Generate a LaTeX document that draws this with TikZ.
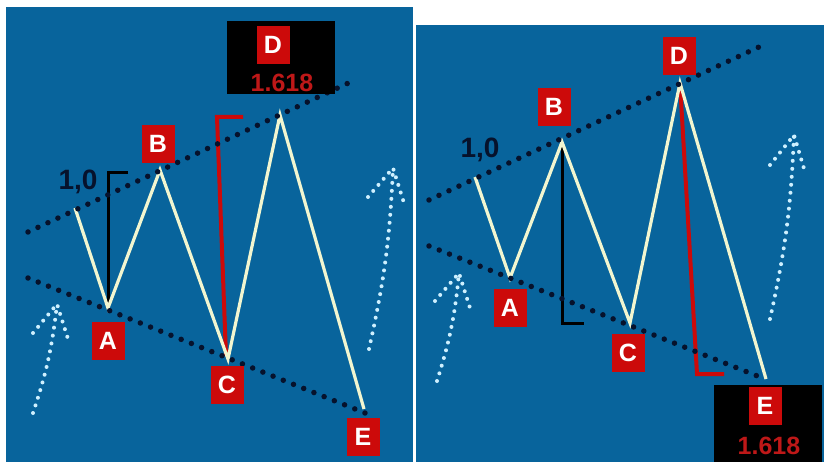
\documentclass[tikz,border=0pt]{standalone}
\usepackage{fontspec}
\setmainfont{Liberation Sans}
\usepackage{tikz}
\usetikzlibrary{positioning}
\definecolor{panelblue}{RGB}{8,100,156}
\definecolor{labelred}{RGB}{204,10,10}
\definecolor{ratiored}{RGB}{190,24,24}
\definecolor{dotnavy}{RGB}{6,18,44}
\definecolor{wavecream}{RGB}{242,246,208}
\definecolor{arrowdot}{RGB}{206,240,255}
\tikzset{
  panel/.style={fill=panelblue,draw=none},
  wave/.style={draw=wavecream,line width=3.2pt,line join=miter},
  trendline/.style={draw=dotnavy,line width=5.5pt,line cap=round,
    dash pattern=on 0pt off 11pt},
  upmove/.style={draw=arrowdot,line width=4pt,line cap=round,
    dash pattern=on 0pt off 8pt},
  unitbar/.style={draw=black,line width=3pt},
  extbar/.style={draw=labelred,line width=4pt},
  pointlabel/.style={fill=labelred,text=white,minimum width=33pt,
    minimum height=38pt,inner sep=0pt,
    font=\bfseries\fontsize{25}{25}\selectfont},
  targetbox/.style={fill=black,minimum width=108pt,inner sep=0pt},
  ratiotext/.style={text=ratiored,inner sep=0pt,
    font=\bfseries\fontsize{25}{25}\selectfont},
  unittext/.style={text=dotnavy,inner sep=0pt,
    font=\bfseries\fontsize{28}{28}\selectfont}
}

\begin{document}
\begin{tikzpicture}[x=1pt,y=-1pt]
  \useasboundingbox (0,0) rectangle (824,462);
  \fill[panel] (6,7) rectangle (413,462);
  \fill[panel] (416,25) rectangle (824,462);

  % left chart: D is the 1.618 extension
  \coordinate (l0) at (75,208);
  \coordinate (lA) at (108,308);
  \coordinate (lB) at (160,170);
  \coordinate (lC) at (228,359);
  \coordinate (lD) at (280,115);
  \coordinate (lE) at (364,409);
  \coordinate (lUpS) at (28,232);
  \coordinate (lUpT) at (357,79);
  \coordinate (lLoS) at (28,278);
  \coordinate (lLoT) at (365,413);
  \coordinate (lUnitEnd) at (128,173);
  \coordinate (lUnitTop) at (108,173);
  \coordinate (lExtEnd) at (243,117);
  \coordinate (lExtTop) at (217,117);
  \coordinate (lExtBot) at (226,356);

  \draw[unitbar] (lUnitEnd) -- (lUnitTop) -- (lA);
  \draw[extbar] (lExtEnd) -- (lExtTop) -- (lExtBot);
  \draw[wave] (l0) -- (lA) -- (lB) -- (lC) -- (lD) -- (lE);
  \draw[trendline] (lUpS) -- (lUpT);
  \draw[trendline] (lLoS) -- (lLoT);

  % dotted up arrows
  \coordinate (lm1S) at (33,413);
  \coordinate (lm1T) at (57,304);
  \coordinate (lm1L) at (33,333);
  \coordinate (lm1R) at (68,339);
  \draw[upmove] (lm1S) to[bend right=6] (lm1T);
  \draw[upmove] (lm1L) -- (lm1T) -- (lm1R);
  \coordinate (lm2S) at (369,349);
  \coordinate (lm2T) at (393,168);
  \coordinate (lm2L) at (368,197);
  \coordinate (lm2R) at (404,203);
  \draw[upmove] (lm2S) to[bend right=5] (lm2T);
  \draw[upmove] (lm2L) -- (lm2T) -- (lm2R);

  \node[unittext] (lUnit) at (78,182) {1,0};
  \node[pointlabel,below=14pt of lA] (lAlab) {A};
  \node[pointlabel,above=7pt of lB,xshift=-2pt] (lBlab) {B};
  \node[pointlabel,below=7pt of lC,xshift=-1pt] (lClab) {C};
  \node[pointlabel,below=9pt of lE,xshift=-1pt] (lElab) {E};
  \node[targetbox,minimum height=73pt] (lDbox) at (281,57.5) {};
  \node[pointlabel,below=5pt of lDbox.north,xshift=-8pt] (lDlab) {D};
  \node[ratiotext,above=2pt of lDbox.south,xshift=1pt] (lDratio) {1.618};

  % right chart: E is the 1.618 extension
  \coordinate (r0) at (475,177);
  \coordinate (rA) at (510,278);
  \coordinate (rB) at (562,142);
  \coordinate (rC) at (630,323);
  \coordinate (rD) at (680,83);
  \coordinate (rE) at (766,379);
  \coordinate (rUpS) at (429,200);
  \coordinate (rUpT) at (759,47);
  \coordinate (rLoS) at (429,246);
  \coordinate (rLoT) at (765,379);
  \coordinate (rUnitBot) at (562,323);
  \coordinate (rUnitEnd) at (584,323);
  \coordinate (rExtBot) at (697,374);
  \coordinate (rExtEnd) at (724,374);

  \draw[unitbar] (rB) -- (rUnitBot) -- (rUnitEnd);
  \draw[extbar] (rD) -- (rExtBot) -- (rExtEnd);
  \draw[wave] (r0) -- (rA) -- (rB) -- (rC) -- (rD) -- (rE);
  \draw[trendline] (rUpS) -- (rUpT);
  \draw[trendline] (rLoS) -- (rLoT);

  \coordinate (rm1S) at (437,381);
  \coordinate (rm1T) at (459,273);
  \coordinate (rm1L) at (435,301);
  \coordinate (rm1R) at (470,308);
  \draw[upmove] (rm1S) to[bend right=6] (rm1T);
  \draw[upmove] (rm1L) -- (rm1T) -- (rm1R);
  \coordinate (rm2S) at (770,319);
  \coordinate (rm2T) at (794,135);
  \coordinate (rm2L) at (770,165);
  \coordinate (rm2R) at (805,172);
  \draw[upmove] (rm2S) to[bend right=5] (rm2T);
  \draw[upmove] (rm2L) -- (rm2T) -- (rm2R);

  \node[unittext] (rUnit) at (480,150) {1,0};
  \node[pointlabel,below=11pt of rA] (rAlab) {A};
  \node[pointlabel,above=16pt of rB,xshift=-8pt] (rBlab) {B};
  \node[pointlabel,below=11pt of rC,xshift=-2pt] (rClab) {C};
  \node[pointlabel,above=8pt of rD,xshift=-1pt] (rDlab) {D};
  \node[targetbox,minimum height=77pt] (rEbox) at (768,423.5) {};
  \node[pointlabel,below=2pt of rEbox.north,xshift=-3pt] (rElab) {E};
  \node[ratiotext,above=7pt of rEbox.south,xshift=1pt] (rEratio) {1.618};
\end{tikzpicture}
\end{document}
